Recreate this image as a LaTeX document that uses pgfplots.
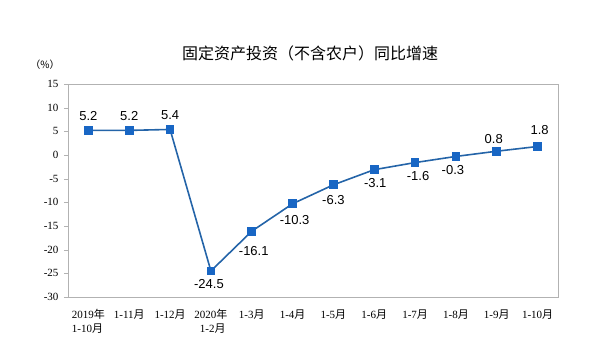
\documentclass[border=0pt]{standalone}
\usepackage{pgfplots}
\pgfplotsset{compat=1.18}
\usepackage{fontspec}
\setmainfont{Liberation Serif}
\newfontfamily\cjk{Noto Sans CJK SC}
\newfontfamily\lab{Liberation Sans}
\definecolor{lineblue}{HTML}{2464A8}
\definecolor{markblue}{HTML}{1866C4}
\begin{document}
\begin{tikzpicture}[x=1pt,y=1pt]
\useasboundingbox (-68,-60) rectangle (532,297);
\begin{axis}[
  at={(0,0)}, anchor=south west,
  scale only axis, width=490pt, height=213pt,
  xmin=-0.5, xmax=11.5, ymin=-30, ymax=15,
  ytick={-30,-25,...,15},
  xtick={0,...,11},
  xticklabels={{2019\cjk 年\\1-10\cjk 月},{1-11\cjk 月},{1-12\cjk 月},{2020\cjk 年\\\ \ 1-2\cjk 月},{1-3\cjk 月},{1-4\cjk 月},{1-5\cjk 月},{1-6\cjk 月},{1-7\cjk 月},{1-8\cjk 月},{1-9\cjk 月},{1-10\cjk 月}},
  x tick label style={font=\fontsize{11}{14}\selectfont, align=left, anchor=north, yshift=-9pt},
  extra x ticks={0.5,1.5,...,10.5},
  extra x tick labels={},
  extra x tick style={major tick length=5pt, tick style={gray!60}, tick align=inside, xtick pos=bottom},
  major x tick style={draw=none},
  y tick label style={font=\fontsize{11}{13}\selectfont, xshift=-2pt},
  /pgf/number format/assume math mode=true,
  ytick pos=left, ytick align=outside, major tick length=4pt,
  tick style={gray!60},
  axis line style={gray!60},
  clip=false,
  nodes near coords,
  point meta=explicit symbolic,
  visualization depends on={value \thisrow{dx}\as\mydx},
  visualization depends on={value \thisrow{dy}\as\mydy},
  every node near coord/.append style={font=\lab\fontsize{13}{15}\selectfont, anchor=center, inner sep=0pt, xshift=\mydx pt, yshift=\mydy pt, text=black},
]
\addplot[color=lineblue, line width=1.6pt, mark=square*, mark size=3.6pt, mark options={fill=markblue, draw=markblue}]
table[x=x, y=y, meta=lab] {
x y lab dx dy
0 5.2 5.2 0 14
1 5.2 5.2 0 14
2 5.4 5.4 0 14
3 -24.5 -24.5 -2 -13
4 -16.1 -16.1 2 -20
5 -10.3 -10.3 2 -16
6 -6.3 -6.3 0 -15
7 -3.1 -3.1 1 -13
8 -1.6 -1.6 3 -13
9 -0.3 -0.3 -3 -14
10 0.8 0.8 -3 12
11 1.8 1.8 2 16
};
\end{axis}
\node[font=\cjk\fontsize{16}{18}\selectfont] at (242,244) {固定资产投资（不含农户）同比增速};
\node[font=\cjk\fontsize{10}{12}\selectfont] at (-23,232) {（\%）};
\end{tikzpicture}
\end{document}
